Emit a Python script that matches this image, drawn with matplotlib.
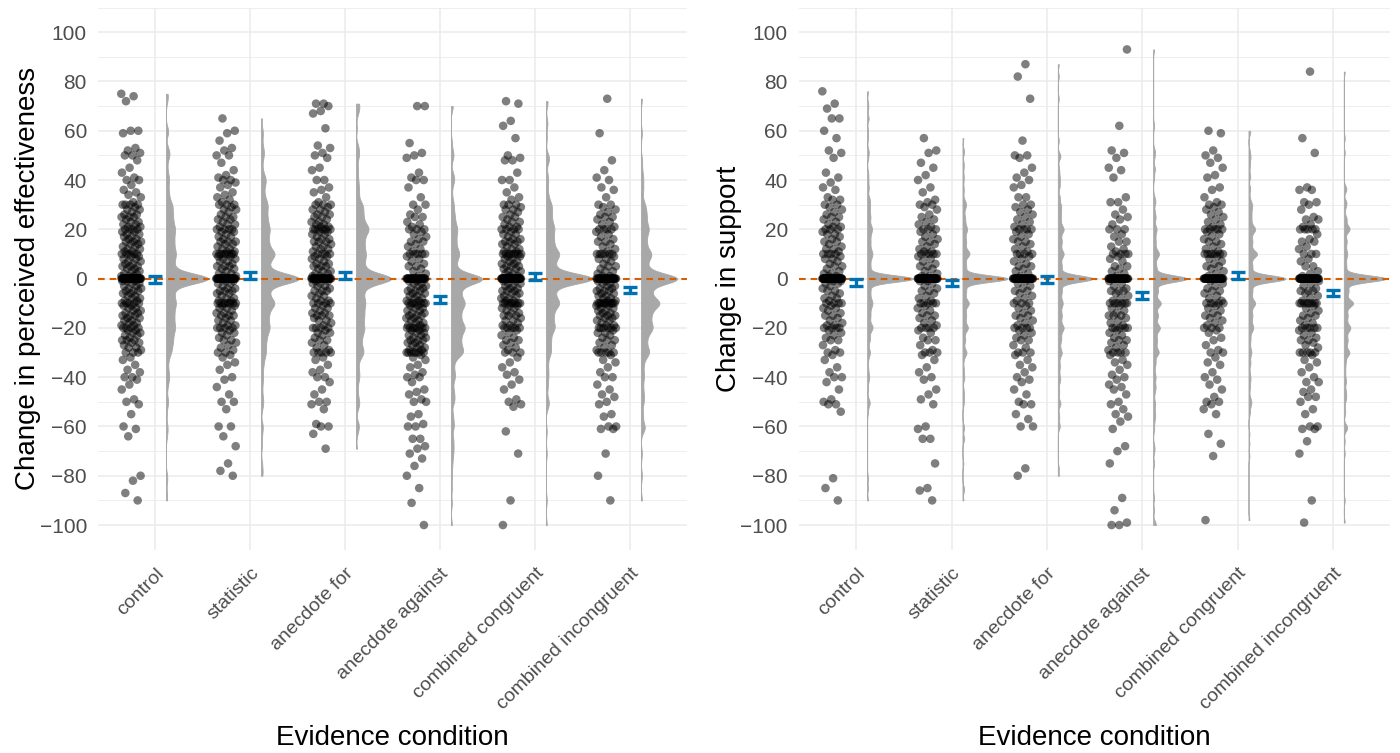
import numpy as np
import matplotlib
matplotlib.use("Agg")
import matplotlib.pyplot as plt
from matplotlib.transforms import ScaledTranslation

plt.rcParams['font.family'] = ['Liberation Sans', 'DejaVu Sans']

## data ##
conditions = ["control", "statistic", "anecdote for", "anecdote against",
              "combined congruent", "combined incongruent"]

# change in perceived effectiveness, one value per participant
eff_control = [
    75, 74, 72, 60, 60, 59, 53, 52, 51, 50, 50, 48, 45, 43, 41, 40, 40, 38, 36, 35, 34, 33, 31, 30, 30, 30, 30,
    29, 28, 28, 27, 26, 26, 25, 25, 25, 24, 23, 23, 22, 22, 21, 21, 20, 20, 20, 20, 19, 19, 18, 18, 17, 17,
    16, 16, 15, 15, 15, 14, 14, 13, 13, 12, 12, 11, 11, 10, 10, 10, 10, 10, 9, 9, 8, 8, 7, 7, 6, 6,
    5, 5, 5, 4, 4, 3, 3, 2, 2, 1, 1, 1,
    0, 0, 0, 0, 0, 0, 0, 0, 0, 0, 0, 0, 0, 0, 0, 0, 0, 0, 0, 0, 0, 0, 0, 0, 0, 0, 0, 0, 0, 0,
    0, 0, 0, 0, 0, 0, 0, 0, 0, 0, 0, 0, 0, 0, 0,
    -1, -1, -1, -2, -2, -3, -3, -4, -4, -5, -5, -5, -6, -6, -7, -7, -8, -8, -9, -9, -10, -10, -10, -10, -10,
    -11, -11, -12, -12, -13, -13, -14, -14, -15, -15, -15, -16, -16, -17, -17, -18, -18, -19, -19,
    -20, -20, -20, -20, -21, -21, -22, -22, -23, -23, -24, -25, -25, -25, -26, -26, -27, -28, -28, -29,
    -30, -30, -30,
    -32, -33, -35, -37, -38, -40, -40, -41, -43, -45, -49, -50, -51, -55, -60, -61, -64, -80, -82, -87, -90]
eff_statistic = [
    65, 60, 59, 56, 53, 52, 50, 50, 47, 44, 42, 41, 40, 40, 39, 38, 37, 35, 34, 33, 32, 31, 30, 30, 30,
    29, 28, 28, 27, 26, 25, 25, 24, 24, 23, 22, 22, 21, 20, 20, 20, 20, 19, 19, 18, 17, 17, 16, 15, 15, 15,
    14, 14, 13, 12, 12, 11, 11, 10, 10, 10, 10, 10, 10, 10, 10, 9, 9, 8, 8, 7, 7, 6, 5, 5, 5, 4, 4, 3,
    2, 2, 1, 1,
    0, 0, 0, 0, 0, 0, 0, 0, 0, 0, 0, 0, 0, 0, 0, 0, 0, 0, 0, 0, 0, 0, 0, 0, 0, 0, 0, 0, 0, 0,
    0, 0, 0, 0, 0, 0,
    -1, -1, -2, -2, -3, -4, -4, -5, -5, -5, -6, -6, -7, -8, -8, -9, -9,
    -10, -10, -10, -10, -10, -10, -10, -10, -11, -11, -12, -12, -13, -14, -14, -15, -15, -15,
    -16, -17, -17, -18, -19, -19, -20, -20, -20, -20, -21, -22, -22, -23, -24, -25, -25, -26,
    -27, -28, -29, -30, -30,
    -31, -32, -34, -35, -37, -40, -41, -44, -47, -50, -50, -53, -60, -60, -64, -68, -75, -78, -80]
eff_anec_for = [
    71, 71, 70, 68, 67, 61, 54, 53, 51, 50, 49, 45, 44, 40, 40, 37, 36, 35, 33, 31, 30, 30, 30,
    29, 28, 28, 27, 26, 26, 25, 25, 24, 23, 23, 22, 22, 21, 21, 20, 20, 20, 20, 20, 20, 19, 19, 18, 18,
    17, 16, 16, 15, 15, 15, 14, 13, 13, 12, 12, 11, 10, 10, 10, 10, 9, 9, 8, 8, 7, 6, 6, 5, 5, 5,
    4, 3, 3, 2, 2, 1, 1,
    0, 0, 0, 0, 0, 0, 0, 0, 0, 0, 0, 0, 0, 0, 0, 0, 0, 0, 0, 0, 0, 0, 0, 0, 0, 0, 0, 0, 0, 0,
    -1, -1, -2, -2, -3, -3, -4, -5, -5, -5, -6, -7, -7, -8, -9, -9, -10, -10, -10, -10,
    -11, -12, -12, -13, -14, -14, -15, -15, -15, -16, -17, -17, -18, -19, -20, -20, -20, -20,
    -21, -22, -22, -23, -24, -25, -25, -26, -27, -28, -29, -30, -30, -30, -30, -30,
    -32, -33, -35, -37, -38, -40, -40, -42, -45, -47, -50, -50, -51, -53, -59, -60, -60, -63, -69]
eff_anec_against = [
    70, 70, 55, 51, 50, 49, 43, 41, 40, 40, 37, 33, 30, 30,
    28, 26, 25, 25, 23, 22, 21, 20, 20, 20, 19, 18, 17, 16, 15, 15, 14, 13, 12, 11,
    10, 10, 10, 10, 10, 9, 8, 7, 6, 5, 5, 4, 3, 2, 1,
    0, 0, 0, 0, 0, 0, 0, 0, 0, 0, 0, 0, 0, 0, 0, 0, 0, 0, 0, 0, 0, 0, 0, 0, 0, 0, 0, 0,
    -1, -1, -2, -2, -3, -3, -4, -4, -5, -5, -5, -6, -6, -7, -7, -8, -8, -9, -9,
    -10, -10, -10, -10, -10, -10, -10, -11, -11, -12, -12, -13, -13, -14, -14, -15, -15, -15,
    -16, -16, -17, -17, -18, -18, -19, -19, -20, -20, -20, -20, -20, -20, -20,
    -21, -21, -22, -22, -23, -23, -24, -24, -25, -25, -25, -26, -26, -27, -27, -28, -28, -29, -29,
    -30, -30, -30, -30, -30, -30, -30,
    -31, -32, -33, -35, -36, -38, -39, -40, -40, -42, -45, -46, -47, -49, -50, -50, -55, -56, -59, -60,
    -60, -65, -65, -68, -69, -71, -73, -76, -80, -85, -91, -100]
eff_comb_cong = [
    72, 71, 64, 62, 57, 50, 49, 48, 48, 43, 40, 40, 37, 35, 33, 32, 30, 30, 30,
    29, 28, 28, 27, 26, 25, 25, 24, 23, 23, 22, 21, 21, 20, 20, 20, 20, 19, 18, 18, 17, 16, 16,
    15, 15, 15, 14, 14, 13, 12, 12, 11, 11, 10, 10, 10, 10, 10, 10, 10, 10, 9, 9, 8, 8, 7, 7, 6, 6,
    5, 5, 5, 4, 4, 3, 3, 2, 2, 1, 1,
    0, 0, 0, 0, 0, 0, 0, 0, 0, 0, 0, 0, 0, 0, 0, 0, 0, 0, 0, 0, 0, 0, 0, 0, 0, 0, 0, 0, 0, 0,
    0, 0, 0, 0, 0, 0, 0, 0, 0, 0, 0, 0, 0, 0, 0, 0, 0,
    -1, -1, -2, -2, -3, -3, -4, -4, -5, -5, -5, -6, -6, -7, -7, -8, -8, -9, -9,
    -10, -10, -10, -10, -10, -10, -10, -10, -11, -11, -12, -12, -13, -14, -14, -15, -15, -15,
    -16, -17, -17, -18, -19, -19, -20, -20, -20, -20, -20, -21, -22, -23, -24, -25, -25, -26,
    -27, -28, -29, -30, -30, -30,
    -32, -34, -36, -38, -39, -41, -43, -45, -49, -50, -51, -52, -62, -71, -90, -100]
eff_comb_incong = [
    73, 59, 48, 44, 41, 40, 37, 36, 33, 30, 30,
    29, 28, 27, 26, 25, 25, 24, 23, 22, 21, 20, 20, 20, 20, 19, 18, 17, 16, 15, 15, 14, 13, 12, 11,
    10, 10, 10, 10, 10, 10, 9, 8, 8, 7, 6, 5, 5, 4, 3, 3, 2, 1, 1,
    0, 0, 0, 0, 0, 0, 0, 0, 0, 0, 0, 0, 0, 0, 0, 0, 0, 0, 0, 0, 0, 0, 0, 0, 0, 0, 0, 0, 0, 0,
    -1, -1, -2, -2, -3, -3, -4, -4, -5, -5, -5, -6, -6, -7, -7, -8, -8, -9, -9,
    -10, -10, -10, -10, -10, -10, -10, -10, -10, -10, -10, -11, -11, -12, -12, -13, -13, -14, -14,
    -15, -15, -15, -16, -16, -17, -17, -18, -19, -19, -20, -20, -20, -20, -20, -20,
    -21, -22, -22, -23, -24, -25, -25, -26, -27, -28, -29, -30, -30, -30, -30, -30,
    -31, -33, -34, -36, -38, -40, -40, -43, -45, -47, -48, -50, -51, -55, -56, -60, -60, -61, -61,
    -71, -80, -90]

# change in support
sup_control = [
    76, 71, 69, 65, 65, 60, 57, 52, 51, 49, 43, 41, 39, 37, 36, 33, 32, 32, 30, 30,
    29, 28, 27, 26, 25, 25, 24, 23, 22, 21, 21, 20, 20, 20, 19, 18, 18, 17, 16, 15, 15, 14, 13,
    12, 12, 11, 10, 10, 10, 10, 9, 8, 8, 7, 6, 5, 5, 4, 3, 2, 2, 1, 1,
    0, 0, 0, 0, 0, 0, 0, 0, 0, 0, 0, 0, 0, 0, 0, 0, 0, 0, 0, 0, 0, 0, 0, 0, 0, 0, 0, 0, 0, 0,
    0, 0, 0, 0, 0, 0, 0, 0, 0, 0, 0, 0, 0, 0, 0, 0, 0, 0, 0, 0, 0, 0, 0, 0, 0,
    -1, -1, -2, -2, -3, -4, -5, -5, -6, -7, -8, -8, -9, -10, -10, -10, -10, -11, -12, -12,
    -13, -14, -15, -15, -16, -17, -18, -19, -19, -20, -20, -20, -20, -21, -22, -23, -24,
    -25, -25, -27, -29, -30, -30,
    -31, -33, -36, -38, -40, -40, -42, -45, -49, -50, -51, -51, -54, -81, -85, -90]
sup_statistic = [
    57, 52, 51, 47, 45, 42, 40, 37, 35, 32, 31, 30, 30,
    29, 28, 26, 25, 24, 23, 22, 21, 20, 20, 20, 19, 18, 17, 16, 15, 15, 14, 13, 12, 11, 11,
    10, 10, 10, 10, 10, 9, 8, 7, 6, 5, 5, 4, 3, 2, 1, 1,
    0, 0, 0, 0, 0, 0, 0, 0, 0, 0, 0, 0, 0, 0, 0, 0, 0, 0, 0, 0, 0, 0, 0, 0, 0, 0, 0, 0, 0, 0,
    0, 0, 0, 0, 0, 0, 0, 0, 0, 0, 0, 0, 0, 0, 0, 0, 0, 0,
    -1, -1, -2, -3, -4, -5, -5, -6, -7, -8, -9, -10, -10, -10, -10, -10, -11, -12, -13, -14,
    -15, -15, -16, -17, -18, -19, -20, -20, -20, -20, -21, -22, -24, -25, -25, -27, -29,
    -30, -30, -30,
    -31, -33, -36, -38, -40, -41, -45, -47, -49, -51, -60, -61, -65, -65, -75, -85, -86, -90]
sup_anec_for = [
    87, 82, 73, 56, 50, 50, 49, 45, 43, 41, 40, 38, 37, 33, 33, 30, 30,
    29, 28, 27, 26, 25, 24, 23, 22, 21, 20, 20, 20, 20, 19, 18, 17, 16, 15, 15, 14, 13, 12, 11,
    10, 10, 10, 10, 9, 8, 7, 6, 5, 5, 4, 3, 2, 1,
    0, 0, 0, 0, 0, 0, 0, 0, 0, 0, 0, 0, 0, 0, 0, 0, 0, 0, 0, 0, 0, 0, 0, 0, 0, 0, 0, 0, 0, 0,
    0, 0, 0, 0, 0,
    -1, -2, -3, -4, -5, -5, -6, -7, -8, -9, -10, -10, -10, -11, -12, -13, -14, -15, -15,
    -16, -17, -18, -19, -20, -20, -20, -20, -21, -22, -23, -24, -25, -25, -27, -28,
    -30, -30, -30,
    -31, -33, -35, -36, -38, -40, -41, -42, -45, -47, -50, -51, -51, -55, -57, -60, -60, -77, -80]
sup_anec_against = [
    93, 62, 52, 51, 49, 45, 44, 41, 33, 31, 31, 28,
    26, 25, 24, 22, 20, 20, 20, 18, 17, 15, 15, 13, 12, 11, 10, 10, 10, 10, 9, 8, 7, 5, 5, 4, 3, 2, 1,
    0, 0, 0, 0, 0, 0, 0, 0, 0, 0, 0, 0, 0, 0, 0, 0, 0, 0, 0, 0, 0, 0, 0, 0, 0, 0, 0, 0, 0, 0,
    0, 0, 0, 0,
    -1, -2, -3, -4, -5, -5, -5, -6, -7, -8, -9, -10, -10, -10, -10, -10, -10, -11, -12, -13, -14,
    -15, -15, -15, -16, -17, -18, -19, -20, -20, -20, -20, -20, -21, -22, -23, -24, -25, -25,
    -26, -27, -28, -29, -30, -30, -30, -30,
    -31, -33, -34, -35, -37, -39, -40, -41, -43, -44, -45, -47, -50, -51, -53, -55, -56, -58, -61,
    -68, -70, -75, -89, -94, -99, -100, -100]
sup_comb_cong = [
    60, 59, 52, 50, 49, 47, 45, 42, 41, 37, 36, 33, 31, 30, 30,
    29, 28, 27, 26, 25, 24, 23, 22, 21, 20, 20, 20, 20, 20, 19, 18, 17, 16, 15, 15, 14, 13, 12, 11,
    10, 10, 10, 10, 10, 10, 10, 9, 8, 7, 6, 5, 5, 4, 3, 2, 1,
    0, 0, 0, 0, 0, 0, 0, 0, 0, 0, 0, 0, 0, 0, 0, 0, 0, 0, 0, 0, 0, 0, 0, 0, 0, 0, 0, 0, 0, 0,
    0, 0, 0, 0, 0, 0, 0, 0,
    -1, -2, -3, -4, -5, -5, -6, -7, -8, -9, -10, -10, -10, -10, -10, -11, -12, -13, -14,
    -15, -15, -16, -17, -18, -19, -20, -20, -20, -21, -22, -24, -25, -27, -29, -30, -30,
    -32, -34, -35, -38, -40, -41, -43, -45, -48, -50, -50, -51, -53, -55, -63, -67, -72, -98]
sup_comb_incong = [
    84, 57, 51, 37, 36, 36, 31, 31, 30,
    28, 25, 24, 24, 22, 21, 20, 20, 20, 20, 20, 18, 16, 15, 15, 13, 12, 10, 10, 10, 8, 7, 5, 5,
    3, 2, 1,
    0, 0, 0, 0, 0, 0, 0, 0, 0, 0, 0, 0, 0, 0, 0, 0, 0, 0, 0, 0, 0, 0, 0, 0, 0, 0, 0, 0, 0, 0,
    0, 0, 0, 0, 0, 0, 0, 0, 0, 0, 0, 0, 0, 0,
    -1, -2, -3, -4, -5, -5, -5, -6, -7, -8, -9, -10, -10, -10, -10, -10, -10, -10, -10,
    -11, -12, -13, -14, -15, -15, -16, -17, -18, -19, -20, -20, -20, -20, -20,
    -21, -22, -23, -24, -25, -25, -26, -27, -28, -30, -30, -30, -30, -30,
    -31, -33, -34, -36, -38, -40, -42, -42, -45, -46, -48, -48, -50, -53, -55, -60, -60, -61, -61,
    -66, -71, -90, -99]

# mean and 95% CI half width per condition
eff_mean = [-0.5, 1.2, 1.3, -8.5, 0.8, -4.6]
eff_ci = [1.4, 1.4, 1.3, 1.5, 1.4, 1.3]
sup_mean = [-1.6, -1.6, -0.4, -6.7, 1.3, -5.8]
sup_ci = [1.3, 1.2, 1.3, 1.4, 1.3, 1.3]

eff_data = [eff_control, eff_statistic, eff_anec_for, eff_anec_against, eff_comb_cong, eff_comb_incong]
sup_data = [sup_control, sup_statistic, sup_anec_for, sup_anec_against, sup_comb_cong, sup_comb_incong]


def kde(vals, grid, bw):
    z = (grid[:, None] - vals[None, :]) / bw
    return np.exp(-0.5 * z**2).sum(axis=1) / (len(vals) * bw * np.sqrt(2 * np.pi))


def raincloud(ax, data, means, cis, bw, peak, ylabel):
    # violins share one scale factor (equal areas)
    dens = []
    for vals in data:
        v = np.asarray(vals, dtype=float)
        grid = np.linspace(v.min(), v.max(), 800)
        dens.append((grid, kde(v, grid, bw)))
    scale = peak / dens[0][1].max()

    for i in range(len(data)):
        pos = i + 1
        grid, d = dens[i]
        ax.fill_betweenx(grid, pos + 0.115, pos + 0.115 + d * scale,
                         facecolor='#A8A8A8', edgecolor='#A8A8A8', lw=0.6, zorder=2)

    ax.axhline(0, color='#D55E00', lw=1.5, ls=(0, (3.2, 2.4)), zorder=3)

    for i, vals in enumerate(data):
        pos = i + 1
        v = np.asarray(vals, dtype=float)
        frac = (np.arange(len(v)) * 0.618034 + 0.31 * i) % 1.0
        xs = pos - 0.25 + (frac * 2 - 1) * 0.105
        ax.scatter(xs, v, s=38, color='black', alpha=0.5, edgecolors='none', zorder=4)

    ax.errorbar(np.arange(1, len(data) + 1), means, yerr=cis, fmt='none',
                ecolor='#0072B2', elinewidth=2.4, capsize=5, capthick=2.4, zorder=5)

    ax.set_xlim(0.4, len(data) + 0.6)
    ax.set_ylim(-110, 110)
    ax.set_yticks(np.arange(-100, 101, 20))
    ax.set_yticks(np.arange(-110, 111, 20), minor=True)
    ax.set_xticks(np.arange(1, len(data) + 1))
    ax.set_xticklabels(conditions, rotation=45, ha='right', va='top',
                       rotation_mode='anchor', fontsize=14, color='#4D4D4D')
    shift = ScaledTranslation(9 / 100, 0, ax.figure.dpi_scale_trans)
    for lab in ax.get_xticklabels():
        lab.set_transform(lab.get_transform() + shift)
    ax.tick_params(axis='y', labelsize=15, labelcolor='#4D4D4D', length=0, pad=8)
    ax.tick_params(axis='x', length=0, pad=11)
    ax.tick_params(which='minor', length=0)
    ax.grid(True, which='major', color='#EBEBEB', lw=1.1, zorder=0)
    ax.grid(True, which='minor', axis='y', color='#EBEBEB', lw=0.6, zorder=0)
    ax.set_axisbelow(True)
    for sp in ax.spines.values():
        sp.set_visible(False)

    width_px = ax.get_position().width * 1400
    ax.set_ylabel(ylabel, fontsize=20, va='center')
    ax.yaxis.set_label_coords(-70 / width_px, 0.5)
    ax.set_xlabel("Evidence condition", fontsize=20, va='center')
    ax.xaxis.set_label_coords(0.5, -188 / 542)


fig = plt.figure(figsize=(14, 7.53), dpi=100)
ax1 = fig.add_axes([0.070, 0.270, 0.4207, 0.720])
ax2 = fig.add_axes([0.5707, 0.270, 0.4222, 0.720])

raincloud(ax1, eff_data, eff_mean, eff_ci, bw=2.0, peak=0.44,
          ylabel="Change in perceived effectiveness")
raincloud(ax2, sup_data, sup_mean, sup_ci, bw=1.3, peak=0.48,
          ylabel="Change in support")

fig.savefig("out.png", dpi=100)
